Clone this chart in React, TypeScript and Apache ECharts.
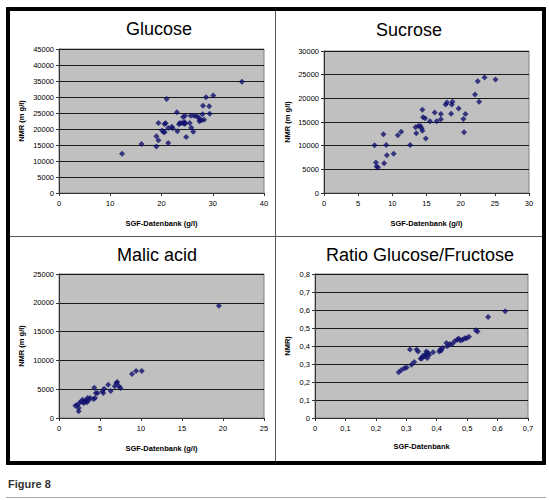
import React, { useEffect, useRef } from "react";
import * as echarts from "echarts";

// Glucose
const glucoseX = [12.3, 16.1, 19.0, 19.0, 19.4, 19.4, 20.1, 20.4, 20.6, 20.8, 20.6, 21.0, 21.3, 21.3, 22.0, 22.2, 23.0, 23.1, 23.4, 23.6, 24.0, 24.2, 24.4, 24.5, 24.6, 24.6, 24.8, 25.5, 25.7, 25.8, 26.2, 26.3, 26.8, 27.2, 27.4, 27.5, 27.8, 28.0, 28.1, 28.3, 28.7, 29.3, 29.4, 30.1, 35.7];
const glucoseY = [12300, 15300, 14500, 17700, 16450, 21900, 19500, 19060, 21560, 21770, 19000, 29400, 20300, 15600, 20700, 20200, 25200, 19270, 21460, 21870, 21900, 23750, 21700, 22200, 24170, 21670, 17500, 21870, 24170, 20400, 19170, 24170, 23960, 23650, 22400, 22900, 22700, 24580, 27300, 22900, 29900, 27080, 24800, 30500, 34800];

// Sucrose
const sucroseX = [7.4, 7.6, 7.7, 7.9, 8.7, 8.8, 9.1, 9.2, 10.2, 10.8, 11.3, 12.6, 13.4, 13.5, 13.8, 14.1, 14.3, 14.4, 14.4, 14.5, 14.8, 14.9, 15.5, 16.2, 16.5, 17.1, 17.1, 17.8, 18.0, 18.6, 18.7, 18.8, 19.7, 20.4, 20.5, 20.7, 22.1, 22.5, 22.7, 23.5, 25.1];
const sucroseY = [10090, 6450, 5600, 5400, 12400, 6300, 10160, 7990, 8270, 12200, 12960, 10160, 13880, 12600, 14160, 14160, 13700, 13170, 17590, 15980, 15770, 11490, 15140, 17030, 15140, 16680, 15560, 18710, 19130, 16750, 18710, 19270, 17870, 15630, 12820, 16680, 20810, 23620, 19270, 24390, 23970];

// Malic acid
const malicX = [2.0, 2.2, 2.4, 2.4, 2.5, 2.7, 2.9, 3.1, 3.3, 3.4, 3.5, 3.6, 3.8, 3.0, 3.2, 4.2, 4.3, 4.4, 4.5, 4.7, 5.3, 5.4, 5.5, 6.0, 6.3, 6.8, 7.0, 7.1, 7.3, 7.5, 8.9, 9.4, 10.1, 19.5];
const malicY = [2140, 2260, 1160, 1740, 2600, 2900, 3180, 2720, 3070, 2720, 3470, 3070, 3470, 2600, 2900, 3300, 5270, 3470, 4340, 4340, 4630, 4340, 5090, 5790, 4690, 5500, 6080, 6250, 5500, 5210, 7640, 8160, 8160, 19500];

// Ratio Glucose/Fructose
const ratioX = [0.275, 0.284, 0.294, 0.301, 0.312, 0.317, 0.326, 0.334, 0.339, 0.347, 0.351, 0.355, 0.361, 0.364, 0.366, 0.369, 0.372, 0.375, 0.388, 0.408, 0.412, 0.414, 0.42, 0.432, 0.435, 0.443, 0.451, 0.459, 0.467, 0.472, 0.478, 0.485, 0.492, 0.498, 0.506, 0.529, 0.534, 0.569, 0.625];
const ratioY = [0.254, 0.267, 0.276, 0.28, 0.38, 0.296, 0.311, 0.38, 0.37, 0.331, 0.331, 0.346, 0.343, 0.356, 0.369, 0.333, 0.361, 0.35, 0.365, 0.369, 0.38, 0.374, 0.389, 0.417, 0.398, 0.411, 0.411, 0.426, 0.435, 0.441, 0.43, 0.435, 0.443, 0.443, 0.452, 0.487, 0.48, 0.561, 0.593];

const titles = ["Glucose", "Sucrose", "Malic acid", "Ratio Glucose/Fructose"];
const xNames = ["SGF-Datenbank (g/l)", "SGF-Datenbank (g/l)", "SGF-Datenbank (g/l)", "SGF-Datenbank"];
const yNames = ["NMR (m g/l)", "NMR (m g/l)", "NMR (m g/l)", "NMR)"];
const xRanges = [[0, 40, 10], [0, 30, 5], [0, 25, 5], [0, 0.7, 0.1]];
const yRanges = [[0, 45000, 5000], [0, 30000, 5000], [0, 25000, 5000], [0, 0.8, 0.1]];
const caption = "Figure 8";

const FONT = "Liberation Sans, Arial, sans-serif";

export default function App() {
  const ref = useRef<HTMLDivElement>(null);
  useEffect(() => {
    if (!ref.current) return;
    const chart = echarts.init(ref.current, null, { renderer: "svg" });
    const grids = [
      { left: 59, top: 49, width: 205, height: 144 },
      { left: 324, top: 51, width: 205, height: 142 },
      { left: 59, top: 274, width: 205, height: 144 },
      { left: 315, top: 274, width: 213, height: 144 },
    ];
    const titlePos = [
      [159, 29],
      [409, 30],
      [157, 255],
      [420, 255],
    ];
    const yGaps = [34, 33, 34, 24];
    const xGaps = [26, 26, 26, 24];
    const datasets = [
      glucoseX.map((x, i) => [x, glucoseY[i]]),
      sucroseX.map((x, i) => [x, sucroseY[i]]),
      malicX.map((x, i) => [x, malicY[i]]),
      ratioX.map((x, i) => [x, ratioY[i]]),
    ];
    const fmt = (idx: number) => (v: number) =>
      idx === 3 ? String(Math.round(v * 10) / 10).replace(".", ",") : String(Math.round(v));

    const option: any = {
      animation: false,
      backgroundColor: "#ffffff",
      grid: grids.map((g) => ({
        ...g,
        show: true,
        backgroundColor: "#c0c0c0",
        borderColor: "#808080",
        borderWidth: 1,
      })),
      xAxis: xRanges.map((r, i) => ({
        type: "value",
        gridIndex: i,
        min: r[0],
        max: r[1],
        interval: r[2],
        name: xNames[i],
        nameLocation: "middle",
        nameGap: xGaps[i],
        nameTextStyle: { fontFamily: FONT, fontSize: 7.5, fontWeight: "bold", color: "#000" },
        axisLine: { show: true, lineStyle: { color: "#333", width: 1 } },
        axisTick: { show: true, inside: false, length: 3, lineStyle: { color: "#333" } },
        axisLabel: { fontFamily: FONT, fontSize: 7.5, color: "#000", margin: 6, formatter: fmt(i) },
        splitLine: { show: false },
      })),
      yAxis: yRanges.map((r, i) => ({
        type: "value",
        gridIndex: i,
        min: r[0],
        max: r[1],
        interval: r[2],
        name: yNames[i],
        nameLocation: "middle",
        nameGap: yGaps[i],
        nameRotate: 90,
        nameTextStyle: { fontFamily: FONT, fontSize: 7.5, fontWeight: "bold", color: "#000" },
        axisLine: { show: true, lineStyle: { color: "#333", width: 1 } },
        axisTick: { show: true, inside: false, length: 3, lineStyle: { color: "#333" } },
        axisLabel: { fontFamily: FONT, fontSize: 7.5, color: "#000", margin: 5, formatter: fmt(i) },
        splitLine: { show: true, lineStyle: { color: "#1a1a1a", width: 1 } },
      })),
      series: datasets.map((d, i) => ({
        type: "scatter",
        xAxisIndex: i,
        yAxisIndex: i,
        data: d,
        symbol: "diamond",
        symbolSize: 6,
        itemStyle: { color: "#10106e" },
      })),
      graphic: [
        {
          type: "rect",
          shape: { x: 8, y: 9, width: 536, height: 454 },
          style: { fill: "none", stroke: "#000", lineWidth: 4 },
          z: 100,
        },
        {
          type: "line",
          shape: { x1: 275.5, y1: 11, x2: 275.5, y2: 461 },
          style: { stroke: "#555", lineWidth: 1 },
          z: 100,
        },
        {
          type: "line",
          shape: { x1: 10, y1: 236.5, x2: 542, y2: 236.5 },
          style: { stroke: "#555", lineWidth: 1 },
          z: 100,
        },
        ...titles.map((t, i) => ({
          type: "text",
          x: titlePos[i][0],
          y: titlePos[i][1],
          style: {
            text: t,
            fontFamily: FONT,
            fontSize: 18,
            fill: "#000",
            align: "center",
            verticalAlign: "middle",
          },
          z: 100,
        })),
        {
          type: "text",
          x: 8,
          y: 484,
          style: {
            text: caption,
            fontFamily: FONT,
            fontSize: 11,
            fontWeight: "bold",
            fill: "#333",
            align: "left",
            verticalAlign: "middle",
          },
          z: 100,
        },
        {
          type: "line",
          shape: { x1: 6, y1: 497.5, x2: 546, y2: 497.5 },
          style: { stroke: "#aaa", lineWidth: 1 },
          z: 100,
        },
      ],
    };
    chart.setOption(option);
    return () => chart.dispose();
  }, []);
  return (
    <div
      ref={ref}
      style={{ position: "fixed", left: 0, top: 0, width: 549, height: 500 }}
    />
  );
}
